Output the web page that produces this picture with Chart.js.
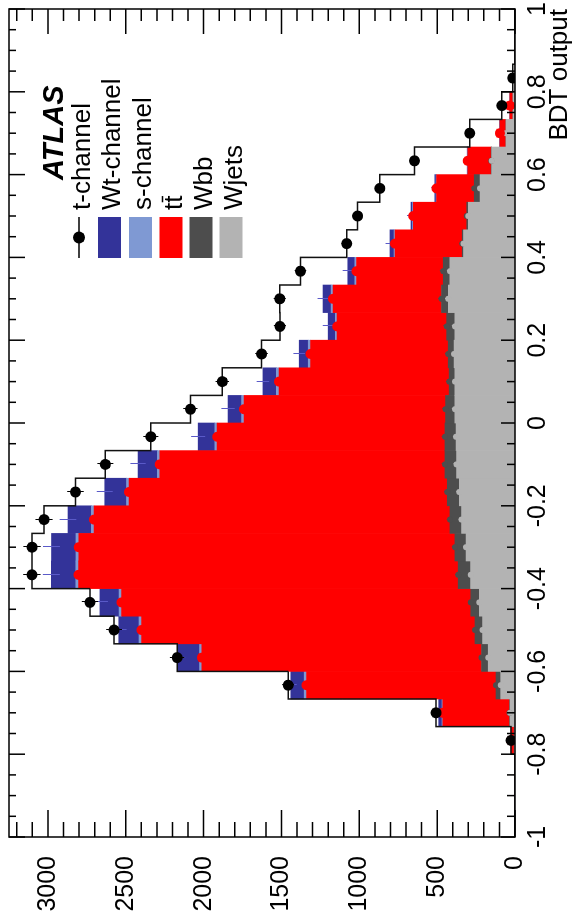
<!DOCTYPE html>
<html>
<head>
<meta charset="utf-8">
<script src="https://cdn.jsdelivr.net/npm/chart.js@4.4.1/dist/chart.umd.min.js"></script>
<style>
html,body{margin:0;padding:0;background:#fff;overflow:hidden;width:574px;height:917px;}
#wrap{position:absolute;left:0;top:0;width:917px;height:574px;transform-origin:0 0;transform:translate(0,917px) rotate(-90deg);background:#fff;}
canvas{display:block;}
</style>
</head>
<body>
<div id="wrap"><canvas id="c" width="917" height="574"></canvas></div>
<script>
// ---- data ----
const binCenters = [-0.9667,-0.9,-0.8333,-0.7667,-0.7,-0.6333,-0.5667,-0.5,-0.4333,-0.3667,-0.3,-0.2333,-0.1667,-0.1,-0.0333,0.0333,0.1,0.1667,0.2333,0.3,0.3667,0.4333,0.5,0.5667,0.6333,0.7,0.7667,0.8333,0.9,0.9667];
const binWidth = 0.0667;
const wjets  = [0,0,0,5,32,92,172,208,229,285,315,343,358,375,379,386,386,392,386,429,418,331,300,225,150,58,13,3,0,0];
const wbb    = [0,0,0,0,3,30,43,49,55,80,71,75,77,75,71,60,37,37,53,43,43,8,10,37,3,0,0,0,0,0];
const ttbar  = [0,0,0,20,429,1217,1796,2142,2243,2438,2416,2286,2044,1832,1463,1294,1093,884,703,697,557,432,343,242,150,39,20,0,0,0];
const schan  = [0,0,0,0,5,15,15,16,16,18,18,17,16,15,15,16,17,15,12,12,11,6,5,3,1,0,0,0,0,0];
const wtchan = [0,0,0,0,21,86,139,130,123,157,157,150,140,124,107,87,86,58,46,52,45,26,10,8,3,2,0,0,0,0];
const tchan  = [0,0,0,0,17,17,5,30,64,125,125,154,188,210,304,242,261,242,310,278,304,278,343,353,339,192,52,12,0,0];
const xTicks = [-1,-0.8,-0.6,-0.4,-0.2,0,0.2,0.4,0.6,0.8,1];
const yTicks = [0,500,1000,1500,2000,2500,3000];
const xTitle = 'BDT output';
const expLabel = 'ATLAS';

const FONT = '"Liberation Sans", Arial, Helvetica, sans-serif';

const series = [
  {label:'Wjets',      data:wjets,  color:'#b3b3b3'},
  {label:'Wbb',        data:wbb,    color:'#4d4d4d'},
  {label:'tt',         data:ttbar,  color:'#ff0000'},
  {label:'s-channel',  data:schan,  color:'#7f99d3'},
  {label:'Wt-channel', data:wtchan, color:'#333399'},
  {label:'t-channel',  data:tchan,  color:'#ffffff'}
];

// cumulative stack tops
const cum = series.map(() => []);
binCenters.forEach((c, i) => {
  let s = 0;
  series.forEach((sr, j) => { s += sr.data[i]; cum[j].push(s); });
});
const total = cum[cum.length - 1];

const barSets = series.map(s => ({
  type:'bar', label:s.label,
  data: binCenters.map((x, i) => ({x, y: s.data[i]})),
  backgroundColor: s.color, borderWidth: 0,
  barPercentage: 1, categoryPercentage: 1,
  stack: 'mc', order: 10
}));

const outline = [];
binCenters.forEach((c, i) => {
  outline.push({x: c - binWidth / 2, y: total[i]});
  outline.push({x: c + binWidth / 2, y: total[i]});
});

function markerSet(id, idx, r, color, order) {
  return {
    type:'line', id, showLine:false, stack:id, order,
    data: binCenters.map((x, i) => ({x, y: series[idx].data[i] > 0 ? cum[idx][i] : null})),
    pointRadius:r, pointHoverRadius:r, pointBackgroundColor:color, pointBorderWidth:0
  };
}

const datasets = [
  ...barSets,
  {type:'line', id:'outline', data:outline, stack:'outline', order:5,
   borderColor:'#111', borderWidth:1.5, pointRadius:0, tension:0, fill:false},
  markerSet('mWjets', 0, 3, '#b3b3b3', 3),
  markerSet('mWbb', 1, 3, '#4d4d4d', 3),
  markerSet('mtt', 2, 5, '#ff0000', 2),
  {type:'line', id:'mTotal', showLine:false, stack:'mTotal', order:0,
   data: binCenters.map((x, i) => ({x, y: total[i] > 0 ? total[i] : null})),
   pointRadius:5.5, pointHoverRadius:5.5, pointBackgroundColor:'#000', pointBorderWidth:0}
];

// error bars (drawn right after the outline, below the markers)
const errorBars = {
  id:'errorBars',
  afterDatasetDraw(chart, args) {
    const ds = chart.data.datasets[args.index];
    if (ds.id !== 'outline') return;
    const {ctx, chartArea:a, scales:{x, y}} = chart;
    ctx.save();
    ctx.beginPath(); ctx.rect(a.left, a.top, a.right - a.left, a.bottom - a.top); ctx.clip();
    const specs = [[0, '#b3b3b3'], [1, '#4d4d4d'], [4, '#5a5ac8'], [5, '#000']];
    ctx.lineWidth = 1;
    specs.forEach(([idx, col]) => {
      ctx.strokeStyle = col;
      ctx.beginPath();
      binCenters.forEach((c, i) => {
        const v = cum[idx][i];
        if (v <= 0 || series[idx].data[i] <= 0 && idx !== 5) return;
        const e = Math.sqrt(v);
        const px = Math.round(x.getPixelForValue(c)) + 0.5;
        ctx.moveTo(px, y.getPixelForValue(v - e));
        ctx.lineTo(px, y.getPixelForValue(v + e));
      });
      ctx.stroke();
    });
    ctx.restore();
  }
};

// ROOT-style frame with inward ticks on all four sides
const frameTicks = {
  id:'frameTicks',
  afterDraw(chart) {
    const {ctx, chartArea:a, scales:{x, y}} = chart;
    ctx.save();
    ctx.strokeStyle = '#000'; ctx.lineWidth = 1.5;
    ctx.beginPath();
    for (let k = 0; k <= 40; k++) {
      const v = -1 + k * 0.05; const px = x.getPixelForValue(v); const maj = k % 4 === 0;
      ctx.moveTo(px, a.bottom); ctx.lineTo(px, a.bottom - (maj ? 14 : 8));
      ctx.moveTo(px, a.top); ctx.lineTo(px, a.top + (maj ? 16 : 7));
    }
    for (let k = 0; k <= 40; k++) {
      const v = k * 100; if (v > y.max) break;
      const py = y.getPixelForValue(v); const maj = k % 5 === 0;
      ctx.moveTo(a.left, py); ctx.lineTo(a.left + (maj ? 27 : 15), py);
      ctx.moveTo(a.right, py); ctx.lineTo(a.right - (maj ? 25 : 12), py);
    }
    ctx.stroke();
    ctx.strokeRect(a.left, a.top, a.right - a.left, a.bottom - a.top);
    ctx.restore();
  }
};

// ATLAS label and legend
const legendBox = {
  id:'legendBox',
  afterDraw(chart) {
    const ctx = chart.ctx;
    ctx.save();
    ctx.fillStyle = '#000';
    ctx.textBaseline = 'alphabetic';
    ctx.textAlign = 'left';
    ctx.font = 'italic bold 29px ' + FONT;
    ctx.fillText(expLabel, 737, 63);
    ctx.font = '26px ' + FONT;
    const textX = 707, boxL = 659, boxR = 700;
    const rows = [
      {s:series[5], base:90, kind:'point'},
      {s:series[4], base:120},
      {s:series[3], base:151},
      {s:series[2], base:181.5, bar:true},
      {s:series[1], base:211.5},
      {s:series[0], base:241.5}
    ];
    rows.forEach(r => {
      if (r.kind === 'point') {
        const cy = r.base - 11;
        ctx.strokeStyle = '#000'; ctx.lineWidth = 1.5;
        ctx.beginPath(); ctx.moveTo(boxL, cy); ctx.lineTo(boxR, cy); ctx.stroke();
        ctx.beginPath(); ctx.arc((boxL + boxR) / 2, cy, 6, 0, Math.PI * 2); ctx.fill();
      } else {
        ctx.fillStyle = r.s.color;
        ctx.fillRect(boxL, r.base - 22, boxR - boxL, 23);
      }
      ctx.fillStyle = '#000';
      ctx.fillText(r.s.label, textX, r.base);
      if (r.bar) {
        const w1 = ctx.measureText('t').width;
        const w2 = ctx.measureText('tt').width;
        ctx.strokeStyle = '#000'; ctx.lineWidth = 1.5;
        ctx.beginPath();
        ctx.moveTo(textX + w1 + 0.5, r.base - 19);
        ctx.lineTo(textX + w2 - 0.5, r.base - 19);
        ctx.stroke();
      }
    });
    ctx.restore();
  }
};

new Chart(document.getElementById('c'), {
  data: { datasets },
  options: {
    responsive:false, animation:false, devicePixelRatio:1,
    layout:{padding:{top:9, right:9, left:0, bottom:0}},
    plugins:{legend:{display:false}, tooltip:{enabled:false}},
    scales:{
      x:{
        type:'linear', min:-1, max:1, offset:false, stacked:true,
        grid:{display:false, offset:false}, border:{display:false},
        afterBuildTicks: s => { s.ticks = xTicks.map(v => ({value:v})); },
        afterFit: s => { s.height = 59; s.paddingLeft = 0; s.paddingRight = 0; },
        ticks:{autoSkip:false, maxRotation:0, minRotation:0, padding:0, color:'#000',
               font:{family:FONT, size:25},
               callback: v => String(Math.round(v * 10) / 10)},
        title:{display:true, text:xTitle, align:'end', color:'#000',
               font:{family:FONT, size:26, lineHeight:1}, padding:{top:0, bottom:1}}
      },
      y:{
        type:'linear', min:0, max:3250, stacked:true,
        grid:{display:false}, border:{display:false},
        afterBuildTicks: s => { s.ticks = yTicks.map(v => ({value:v})); },
        afterFit: s => { s.width = 80; s.paddingTop = 0; s.paddingBottom = 0; },
        ticks:{padding:11, color:'#000', font:{family:FONT, size:25},
               callback: v => String(v)}
      }
    }
  },
  plugins:[errorBars, frameTicks, legendBox]
});
</script>
</body>
</html>
